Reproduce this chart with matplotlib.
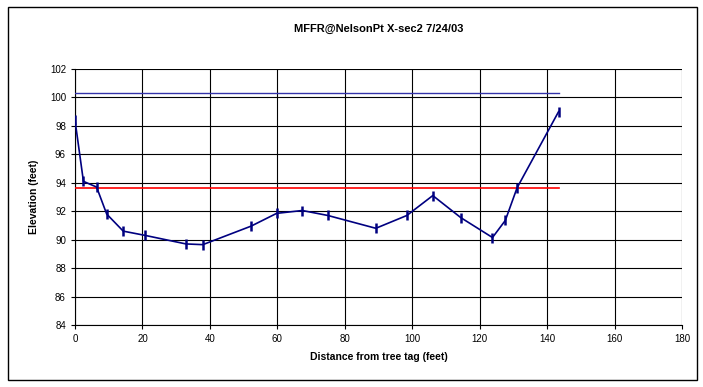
import numpy as np
import matplotlib.pyplot as plt
from matplotlib.patches import Rectangle

plt.rcParams['font.family'] = ['Liberation Sans', 'DejaVu Sans']

distance = [0, 2.5, 6.4, 9.4, 14.3, 20.8, 32.9, 37.9, 52.2, 59.8, 67.4,
            75.0, 89.2, 98.4, 106.1, 114.4, 123.8, 127.6, 131.1, 143.4]
elevation = [98.4, 94.1, 93.7, 91.8, 90.6, 90.3, 89.7, 89.65, 90.95, 91.85, 92.05,
             91.7, 90.8, 91.7, 93.1, 91.55, 90.15, 91.35, 93.65, 99.0]

bankfull_x = [0, 143.4]
bankfull_y = [100.3, 100.3]
water_x = [0, 143.4]
water_y = [93.65, 93.65]

fig = plt.figure(figsize=(7.03, 3.87), dpi=100)
ax = fig.add_axes([75/703, 1 - 325/387, 607/703, 256/387])

fig.patches.append(Rectangle((8/703, 7/387), 689/703, 373/387, transform=fig.transFigure,
                             fill=False, edgecolor='black', linewidth=1.0))

ax.plot(bankfull_x, bankfull_y, color='#3333aa', lw=1.0, zorder=3)
ax.plot(water_x, water_y, color='red', lw=1.2, zorder=3)
ax.plot(distance, elevation, color='#000080', lw=1.2, marker='|', markersize=7,
        markeredgewidth=1.8, zorder=4)

ax.set_xlim(0, 180)
ax.set_ylim(84, 102)
ax.set_xticks(np.arange(0, 181, 20))
ax.set_yticks(np.arange(84, 103, 2))
ax.grid(True, color='black', lw=0.8)
ax.set_axisbelow(True)
ax.tick_params(labelsize=7, length=3, direction='out')
for s in ax.spines.values():
    s.set_color('black')
    s.set_linewidth(0.8)
ax.spines['top'].set_visible(False)
ax.spines['right'].set_visible(False)

ax.set_xlabel('Distance from tree tag (feet)', fontsize=7.5, fontweight='bold', labelpad=6)
ax.set_ylabel('Elevation (feet)', fontsize=7.5, fontweight='bold', labelpad=8)
fig.text(0.5 * (75 + 682) / 703, 1 - 29/387, 'MFFR@NelsonPt X-sec2 7/24/03',
         ha='center', va='center', fontsize=8, fontweight='bold')

fig.savefig('out.png', dpi=100)
